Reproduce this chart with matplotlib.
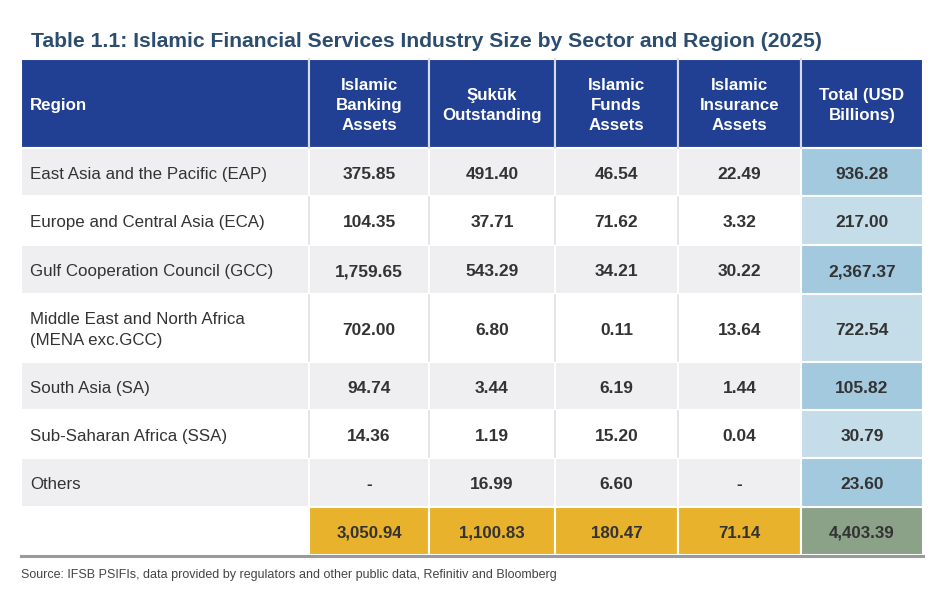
import matplotlib.pyplot as plt
from matplotlib.patches import Rectangle

# table data
regions = ["East Asia and the Pacific (EAP)",
           "Europe and Central Asia (ECA)",
           "Gulf Cooperation Council (GCC)",
           "Middle East and North Africa\n(MENA exc.GCC)",
           "South Asia (SA)",
           "Sub-Saharan Africa (SSA)",
           "Others"]
headers = ["Region", "Islamic\nBanking\nAssets", "Şukūk\nOutstanding",
           "Islamic\nFunds\nAssets", "Islamic\nInsurance\nAssets", "Total (USD\nBillions)"]
banking = [375.85, 104.35, 1759.65, 702.00, 94.74, 14.36, None]
sukuk = [491.40, 37.71, 543.29, 6.80, 3.44, 1.19, 16.99]
funds = [46.54, 71.62, 34.21, 0.11, 6.19, 15.20, 6.60]
insurance = [22.49, 3.32, 30.22, 13.64, 1.44, 0.04, None]
totals = [936.28, 217.00, 2367.37, 722.54, 105.82, 30.79, 23.60]
col_totals = [3050.94, 1100.83, 180.47, 71.14, 4403.39]

# layout in pixels
col_x = [21, 309, 429, 555, 678, 801, 923]
row_y = [59, 148, 196, 245, 294, 362, 410, 458, 507, 555]

navy = "#213f93"
grey_row = "#efeef1"
blue_dark = "#a3c9de"
blue_light = "#c5dce9"
gold = "#e9b22c"
green = "#8ba288"
txt = "#333333"

plt.rcParams["font.family"] = ["Liberation Sans", "DejaVu Sans"]

fig = plt.figure(figsize=(9.4, 5.99), dpi=100)
ax = fig.add_axes([0, 0, 1, 1])
ax.set_xlim(0, 940)
ax.set_ylim(599, 0)
ax.axis("off")

def fmt(v):
    return "-" if v is None else f"{v:,.2f}"

def cell(c, r, color):
    x0, x1 = col_x[c], col_x[c + 1]
    y0, y1 = row_y[r], row_y[r + 1]
    ax.add_patch(Rectangle((x0, y0), x1 - x0, y1 - y0, facecolor=color,
                           edgecolor="white", linewidth=1.5))
    return (x0 + x1) / 2, (y0 + y1) / 2

def put(x, y, s, ha="center", bold=True, size=12.5, color=txt, gap=20):
    # each line placed on its own baseline so descenders don't shift it
    lines = s.split("\n")
    n = len(lines)
    for k, line in enumerate(lines):
        yb = y + 6.8 + (k - (n - 1) / 2) * gap
        ax.text(x, yb, line, color=color, fontsize=size,
                fontweight="bold" if bold else "normal", va="baseline", ha=ha)

# title
ax.text(31, 47, "Table 1.1: Islamic Financial Services Industry Size by Sector and Region (2025)",
        fontsize=15.2, fontweight="bold", color="#2c4d70", va="baseline", ha="left")

# header
for c, h in enumerate(headers):
    cx, cy = cell(c, 0, navy)
    if c == 0:
        put(30, cy, h, ha="left", size=12.2, color="white")
    else:
        put(cx, cy, h, size=12.2, color="white")
for x in col_x[1:-1]:
    ax.plot([x, x], [row_y[0], row_y[1]], color="#d0d6ea", lw=1.2)

# body
for i, reg in enumerate(regions):
    r = i + 1
    shaded = i % 2 == 0
    bg = grey_row if shaded else "white"
    _, cy = cell(0, r, bg)
    put(30, cy, reg, ha="left", bold=False, size=12.2, gap=21)
    vals = [banking[i], sukuk[i], funds[i], insurance[i]]
    for c, v in enumerate(vals, start=1):
        cx, cy = cell(c, r, bg)
        put(cx, cy, fmt(v))
    cx, cy = cell(5, r, blue_dark if shaded else blue_light)
    put(cx, cy, fmt(totals[i]))
    if not shaded:
        for x in col_x[1:-2]:
            ax.plot([x, x], [row_y[r] + 1, row_y[r + 1] - 1], color="#e0e0e0", lw=1.2)

# totals row
r = len(regions) + 1
cell(0, r, "white")
for c, v in enumerate(col_totals, start=1):
    cx, cy = cell(c, r, green if c == 5 else gold)
    put(cx, cy, fmt(v), size=12.2)

ax.plot([col_x[0], col_x[-1]], [row_y[-1] + 1, row_y[-1] + 1], color="#9a9a9a", lw=2.2)

ax.text(21, 578, "Source: IFSB PSIFIs, data provided by regulators and other public data, Refinitiv and Bloomberg",
        fontsize=9, color="#444444", va="baseline", ha="left")

fig.savefig("out.png", dpi=100)
